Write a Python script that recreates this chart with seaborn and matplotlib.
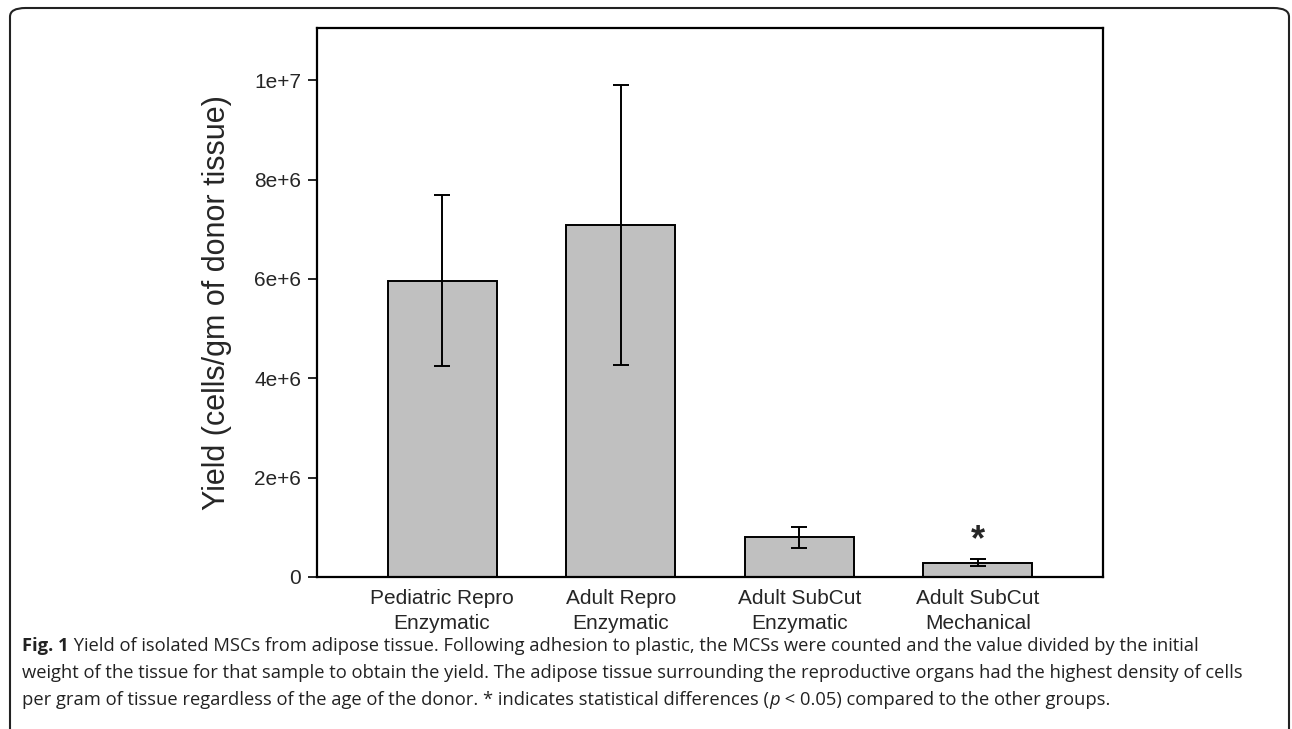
import numpy as np
import matplotlib
matplotlib.use("Agg")
import matplotlib.pyplot as plt
import seaborn as sns
from matplotlib.patches import FancyBboxPatch

# Data
groups = ["Pediatric Repro\nEnzymatic", "Adult Repro\nEnzymatic",
          "Adult SubCut\nEnzymatic", "Adult SubCut\nMechanical"]
mean_yield = [5.96e6, 7.08e6, 0.80e6, 0.29e6]
sd_yield = [1.72e6, 2.82e6, 0.21e6, 0.07e6]
significant = [False, False, False, True]
y_ticks = [0, 2e6, 4e6, 6e6, 8e6, 1e7]
y_tick_labels = ["0", "2e+6", "4e+6", "6e+6", "8e+6", "1e+7"]

caption_lines = [
    [("Fig. 1", "bold", "normal"),
     (" Yield of isolated MSCs from adipose tissue. Following adhesion to plastic, "
      "the MCSs were counted and the value divided by the initial", "normal", "normal")],
    [("weight of the tissue for that sample to obtain the yield. The adipose tissue "
      "surrounding the reproductive organs had the highest density of cells", "normal", "normal")],
    [("per gram of tissue regardless of the age of the donor. * indicates statistical "
      "differences (", "normal", "normal"),
     ("p", "normal", "italic"),
     (" < 0.05) compared to the other groups.", "normal", "normal")],
]

sns.set_style("ticks")
plt.rcParams["font.family"] = ["Liberation Sans", "DejaVu Sans"]

W, H = 1292, 729
fig = plt.figure(figsize=(W / 100, H / 100), dpi=100)

# rounded frame around the whole figure panel
frame = FancyBboxPatch((10 / W, -0.05), 1279 / W, 1.05 - 8 / H,
                       boxstyle="round,pad=0,rounding_size=0.012",
                       transform=fig.transFigure, fill=False,
                       edgecolor="#222222", linewidth=1.5, clip_on=False)
fig.patches.append(frame)

ax = fig.add_axes([317 / W, 1 - 577 / H, (1103 - 317) / W, (577 - 28) / H])

sns.barplot(x=groups, y=mean_yield, color="#c0c0c0", edgecolor="black",
            linewidth=1.4, width=0.61, saturation=1, ax=ax)
xpos = np.arange(len(groups))
ax.errorbar(xpos, mean_yield, yerr=sd_yield, fmt="none", ecolor="black",
            elinewidth=1.4, capsize=6, capthick=1.4, zorder=5)

for i, sig in enumerate(significant):
    if sig:
        ax.text(xpos[i], mean_yield[i] + sd_yield[i] + 1.8e5, "*", ha="center",
                va="baseline", fontsize=26, fontweight="bold")

ax.set_xlim(-0.7, 3.7)
ax.set_ylim(0, 1.105e7)
ax.set_yticks(y_ticks)
ax.set_yticklabels(y_tick_labels, fontsize=15)
ax.tick_params(axis="y", direction="out", length=6.5, width=1.4, pad=5)
ax.tick_params(axis="x", length=0, pad=9, labelsize=15)
for lbl in ax.get_xticklabels():
    lbl.set_linespacing(1.35)
for s in ax.spines.values():
    s.set_linewidth(1.6)
    s.set_color("black")
ax.set_ylabel("Yield (cells/gm of donor tissue)", fontsize=22, labelpad=16)

# caption, drawn segment by segment so bold/italic parts line up
renderer = fig.canvas.get_renderer()
line_y = [646, 673, 700]
for segs, yy in zip(caption_lines, line_y):
    x = 22
    for txt, weight, style in segs:
        t = fig.text(x / W, 1 - yy / H, txt, fontsize=13.2, fontweight=weight,
                     fontstyle=style, va="center", ha="left", color="#222222",
                     family=["Open Sans", "DejaVu Sans"])
        bb = t.get_window_extent(renderer=renderer)
        x += bb.width

fig.savefig("out.png", dpi=100)
